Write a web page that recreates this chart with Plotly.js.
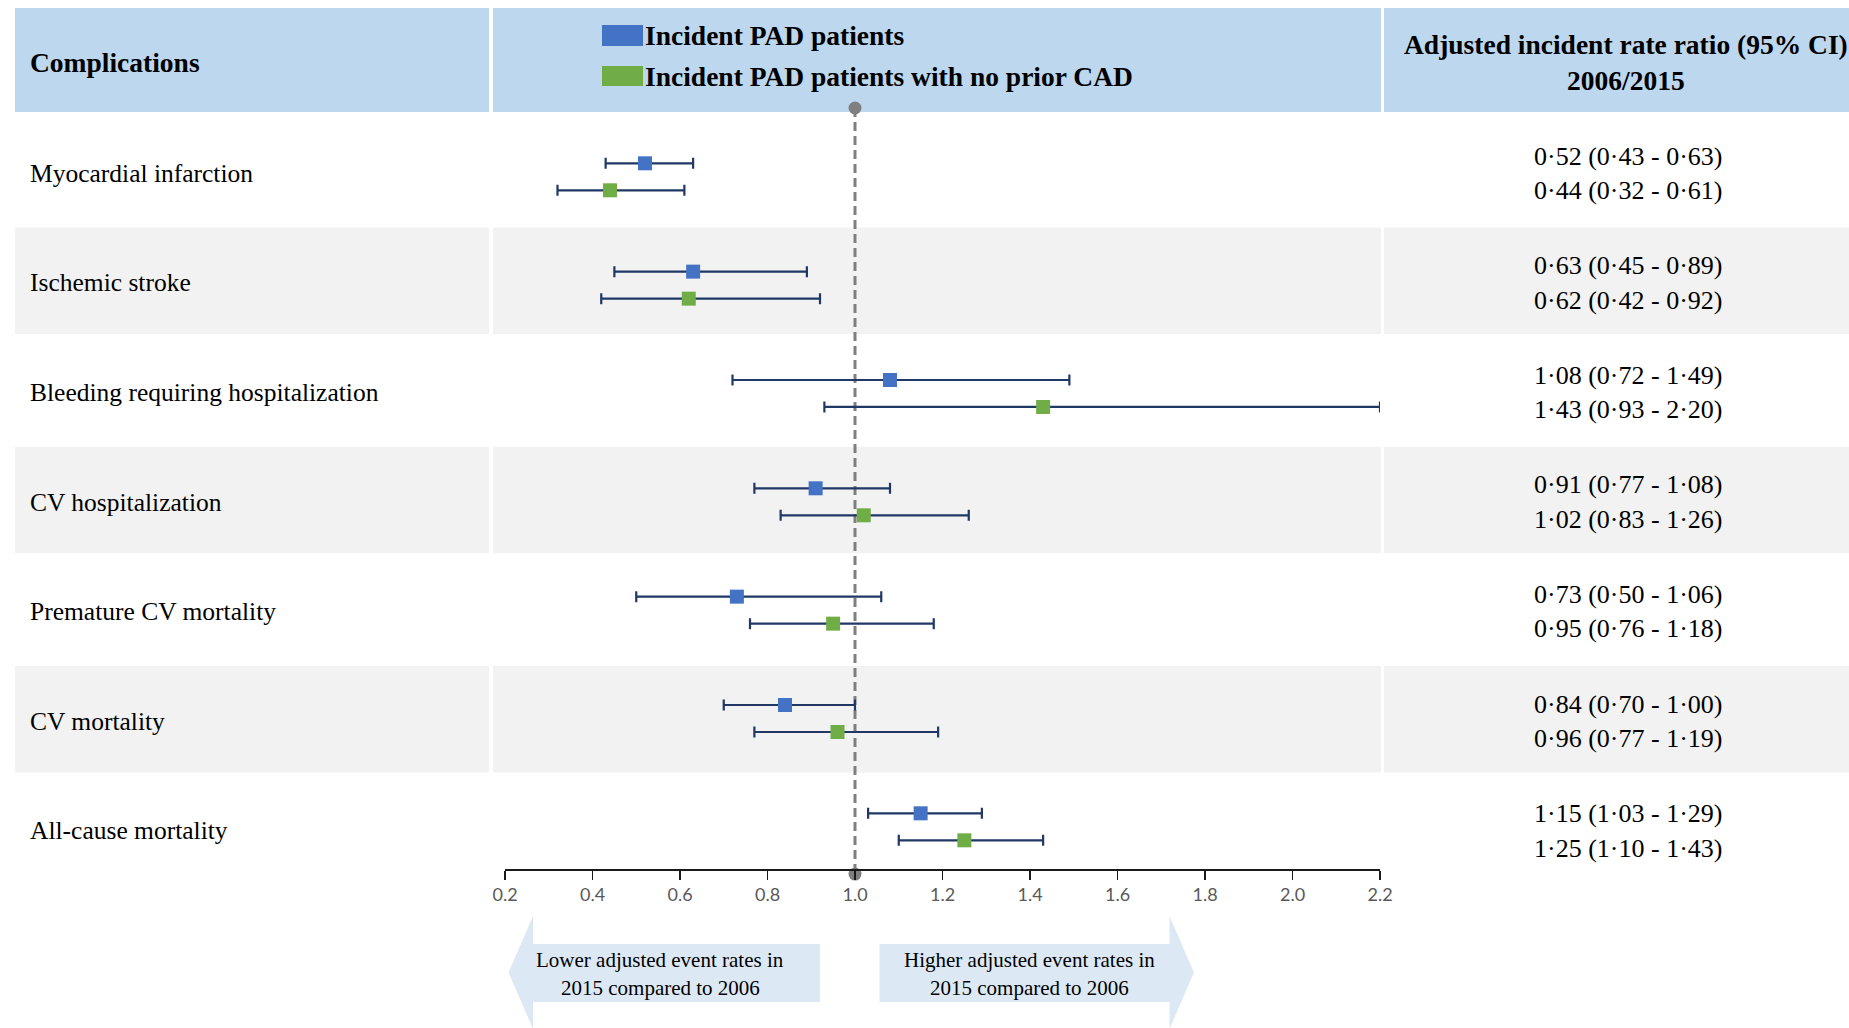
<!DOCTYPE html>
<html>
<head>
<meta charset="utf-8">
<script src="https://cdn.plot.ly/plotly-3.0.1.min.js"></script>
<style>
  html, body { margin: 0; padding: 0; background: #ffffff; overflow: hidden; }
  #chart { width: 1849px; height: 1028px; }
</style>
</head>
<body>
<div id="chart"></div>
<script>
// ---- Data -------------------------------------------------------------
const complications = [
  'Myocardial infarction',
  'Ischemic stroke',
  'Bleeding requiring hospitalization',
  'CV hospitalization',
  'Premature CV mortality',
  'CV mortality',
  'All-cause mortality'
];
const seriesNames = ['Incident PAD patients', 'Incident PAD patients with no prior CAD'];

// Adjusted incident rate ratios with 95% CI, incident PAD patients
const padRR   = [0.52, 0.63, 1.08, 0.91, 0.73, 0.84, 1.15];
const padLow  = [0.43, 0.45, 0.72, 0.77, 0.50, 0.70, 1.03];
const padHigh = [0.63, 0.89, 1.49, 1.08, 1.06, 1.00, 1.29];

// Adjusted incident rate ratios with 95% CI, incident PAD patients with no prior CAD
const noCadRR   = [0.44, 0.62, 1.43, 1.02, 0.95, 0.96, 1.25];
const noCadLow  = [0.32, 0.42, 0.93, 0.83, 0.76, 0.77, 1.10];
const noCadHigh = [0.61, 0.92, 2.20, 1.26, 1.18, 1.19, 1.43];

const tickValues = [0.2, 0.4, 0.6, 0.8, 1.0, 1.2, 1.4, 1.6, 1.8, 2.0, 2.2];
const tickLabels = ['0.2', '0.4', '0.6', '0.8', '1.0', '1.2', '1.4', '1.6', '1.8', '2.0', '2.2'];
const nullRatio = 1.0;

const headerTexts = ['Complications', 'Adjusted incident rate ratio (95% CI)', '2006/2015'];
const arrowTexts = [
  ['Lower adjusted event rates in', '2015 compared to 2006'],
  ['Higher adjusted event rates in', '2015 compared to 2006']
];

// ---- Page geometry ----------------------------------------------------
const W = 1849, H = 1028;
const px = x => x / W;
const py = y => 1 - y / H;
const rowTextY = i => 173.3 + 109.6 * i;   // vertical centre of each table row (px)

const COL = [[15, 489], [493, 1381], [1384, W]];
const SERIF = 'Liberation Serif, Times New Roman, serif';
const BLUE = '#4472c4', GREEN = '#70ad47', HEADER = '#bdd7ee', BAND = '#f2f2f2';
const ARROW = '#dce9f5', CI = '#1f3864', REF = '#7f7f7f';

const fmt = v => v.toFixed(2).replace('.', '\u00B7');
const ciText = (rr, lo, hi, k) => `${fmt(rr[k])} (${fmt(lo[k])} - ${fmt(hi[k])})`;

// ---- Shapes: header, row bands, legend swatches, direction arrows ------
const shapes = [];
const rect = (x0, y0, x1, y1, color) => ({
  type: 'rect', xref: 'paper', yref: 'paper', layer: 'below',
  x0: px(x0), x1: px(x1), y0: py(y1), y1: py(y0),
  fillcolor: color, line: { width: 0 }
});

COL.forEach(c => shapes.push(rect(c[0], 8, c[1], 112, HEADER)));
complications.forEach((_, i) => {
  if (i % 2 === 1) {
    const yc = rowTextY(i);
    COL.forEach(c => shapes.push(rect(c[0], yc - 55.4, c[1], yc + 51.2, BAND)));
  }
});

const swatch = (y0, y1, color) => Object.assign(rect(602, y0, 643, y1, color), { layer: 'above' });
shapes.push(swatch(25, 46, BLUE));
shapes.push(swatch(66, 86, GREEN));

const pathOf = pts => 'M' + pts.map(p => `${px(p[0]).toFixed(5)},${py(p[1]).toFixed(5)}`).join('L') + 'Z';
shapes.push({
  type: 'path', xref: 'paper', yref: 'paper', layer: 'below',
  path: pathOf([[508.5, 972.5], [533, 916], [533, 944], [820, 944], [820, 1002], [533, 1002], [533, 1029]]),
  fillcolor: ARROW, line: { width: 0 }
});
shapes.push({
  type: 'path', xref: 'paper', yref: 'paper', layer: 'below',
  path: pathOf([[1194, 972.5], [1169.5, 916], [1169.5, 944], [879.5, 944], [879.5, 1002], [1169.5, 1002], [1169.5, 1029]]),
  fillcolor: ARROW, line: { width: 0 }
});

// ---- Annotations: table text -----------------------------------------
const annotations = [];
const note = (text, x, y, size, xanchor, extra) => annotations.push(Object.assign({
  text, x: px(x), y: py(y), xref: 'paper', yref: 'paper',
  xanchor, yanchor: 'middle', showarrow: false,
  font: { family: SERIF, size, color: '#000000' }
}, extra || {}));

note('<b>' + headerTexts[0] + '</b>', 27.5, 62.5, 27.5, 'left');
note('<b>' + seriesNames[0] + '</b>', 643, 36, 27.5, 'left');
note('<b>' + seriesNames[1] + '</b>', 643, 76.5, 27.5, 'left');
note('<b>' + headerTexts[1] + '</b>', 1626, 45, 27.5, 'center');
note('<b>' + headerTexts[2] + '</b>', 1626, 81, 27.5, 'center');

complications.forEach((name, i) => {
  const yc = rowTextY(i);
  note(name, 27.5, yc, 25.5, 'left');
  note(ciText(padRR, padLow, padHigh, i), 1628, yc - 17.2, 26, 'center');
  note(ciText(noCadRR, noCadLow, noCadHigh, i), 1628, yc + 17.2, 26, 'center');
});

note(arrowTexts[0][0], 660, 960, 21, 'center');
note(arrowTexts[0][1], 660, 988, 21, 'center');
note(arrowTexts[1][0], 1029, 960, 21, 'center');
note(arrowTexts[1][1], 1029, 988, 21, 'center');

// ---- Traces -----------------------------------------------------------
const rows = complications.map((_, i) => i);
const offset = 0.1246;
const refSpan = [-0.635, 6.436];

const diff = (a, b) => a.map((v, k) => +(v - b[k]).toFixed(4));

const ciBars = (rr, lo, hi) => ({
  type: 'data', symmetric: false,
  array: diff(hi, rr), arrayminus: diff(rr, lo),
  color: CI, thickness: 2.2, width: 5.5
});

const traces = [
  {
    type: 'scatter', mode: 'lines', x: [nullRatio, nullRatio], y: refSpan,
    line: { color: REF, width: 3, dash: '9px,5px' }, hoverinfo: 'skip', cliponaxis: false
  },
  {
    type: 'scatter', mode: 'markers', x: [nullRatio, nullRatio], y: refSpan,
    marker: { symbol: 'circle', size: 13, color: REF }, hoverinfo: 'skip', cliponaxis: false
  },
  {
    type: 'scatter', mode: 'markers', name: seriesNames[0],
    x: padRR, y: rows.map(i => i - offset), text: complications,
    marker: { symbol: 'square', size: 14, color: BLUE },
    error_x: ciBars(padRR, padLow, padHigh), cliponaxis: false
  },
  {
    type: 'scatter', mode: 'markers', name: seriesNames[1],
    x: noCadRR, y: rows.map(i => i + offset), text: complications,
    marker: { symbol: 'square', size: 14, color: GREEN },
    error_x: ciBars(noCadRR, noCadLow, noCadHigh), cliponaxis: false
  }
];

// ---- Layout -----------------------------------------------------------
const layout = {
  width: W, height: H, autosize: false,
  margin: { l: 0, r: 0, t: 0, b: 0, pad: 0 },
  paper_bgcolor: '#ffffff', plot_bgcolor: 'rgba(0,0,0,0)',
  showlegend: false,
  xaxis: {
    domain: [px(505), px(1380)], range: [0.2, 2.2],
    anchor: 'free', position: py(869),
    showline: true, linecolor: '#1a1a1a', linewidth: 1.5,
    ticks: 'outside', ticklen: 9, tickwidth: 1.5, tickcolor: '#1a1a1a',
    tickvals: tickValues, ticktext: tickLabels,
    tickfont: { family: 'Lato, Carlito, sans-serif', size: 18, color: '#595959' },
    showgrid: false, zeroline: false, fixedrange: true
  },
  yaxis: {
    domain: [0, 1], range: [7.857, -1.632],
    visible: false, showgrid: false, zeroline: false, fixedrange: true
  },
  shapes, annotations
};

Plotly.newPlot('chart', traces, layout, { displayModeBar: false, staticPlot: true });
</script>
</body>
</html>
